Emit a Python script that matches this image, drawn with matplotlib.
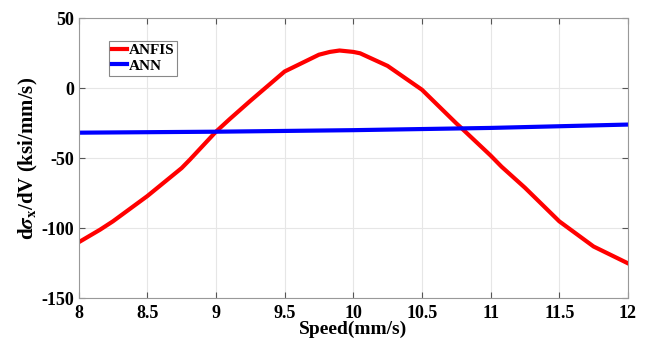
import matplotlib
matplotlib.use("Agg")
import matplotlib.pyplot as plt

plt.rcParams["font.family"] = ["Liberation Serif", "DejaVu Serif"]
plt.rcParams["font.weight"] = "bold"
plt.rcParams["mathtext.fontset"] = "stix"
plt.rcParams["axes.unicode_minus"] = False

# values
speed_anfis = [8.0, 8.156, 8.25, 8.5, 8.75, 8.81, 9.0, 9.1, 9.25, 9.5,
               9.75, 9.83, 9.9, 10.0, 10.05, 10.25, 10.5, 10.75, 10.79,
               11.0, 11.08, 11.25, 11.5, 11.75, 12.0]
anfis = [-110, -101, -95, -77, -57, -51, -31, -22, -9, 12,
         24, 26, 27, 26, 25, 16, -1, -25, -28.6,
         -48, -56, -71, -95, -113, -125]

speed_ann = [8.0, 9.0, 10.0, 11.0, 12.0]
ann = [-31.7, -31.0, -29.9, -28.3, -25.9]

xticks = [8, 8.5, 9, 9.5, 10, 10.5, 11, 11.5, 12]
yticks = [-150, -100, -50, 0, 50]

fig = plt.figure(figsize=(6.46, 3.48), dpi=100)
ax = fig.add_axes([0.1217, 0.1428, 0.8503, 0.8046])

ax.plot(speed_anfis, anfis, color="#ff0000", lw=3, label="ANFIS",
        solid_joinstyle="round")
ax.plot(speed_ann, ann, color="#0000ff", lw=3, label="ANN")

ax.set_xlim(8, 12)
ax.set_ylim(-150, 50)
ax.set_xticks(xticks)
ax.set_xticklabels([f"{t:g}" for t in xticks])
ax.set_yticks(yticks)
ax.tick_params(direction="in", top=True, right=True, labelsize=13,
               length=4, color="#555555", pad=3)
ax.tick_params(axis="x", pad=5)
for s in ax.spines.values():
    s.set_color("#999999")
    s.set_linewidth(0.8)
ax.grid(True, color="#e6e6e6", lw=0.8)

ax.set_xlabel("Speed(mm/s)", fontsize=14, fontweight="bold", labelpad=-1)
ax.set_ylabel(r"d$\sigma_{\mathbf{x}}$/dV (ksi/mm/s)", fontsize=15,
              fontweight="bold", labelpad=1)

leg = ax.legend(loc="upper left", bbox_to_anchor=(0.055, 0.92), fontsize=11,
                handlelength=1.0, handletextpad=0.1, borderpad=0.2,
                labelspacing=0.1, fancybox=False, framealpha=1,
                edgecolor="#888888", borderaxespad=0)
leg.get_frame().set_linewidth(0.8)

fig.savefig("out.png", dpi=100)
